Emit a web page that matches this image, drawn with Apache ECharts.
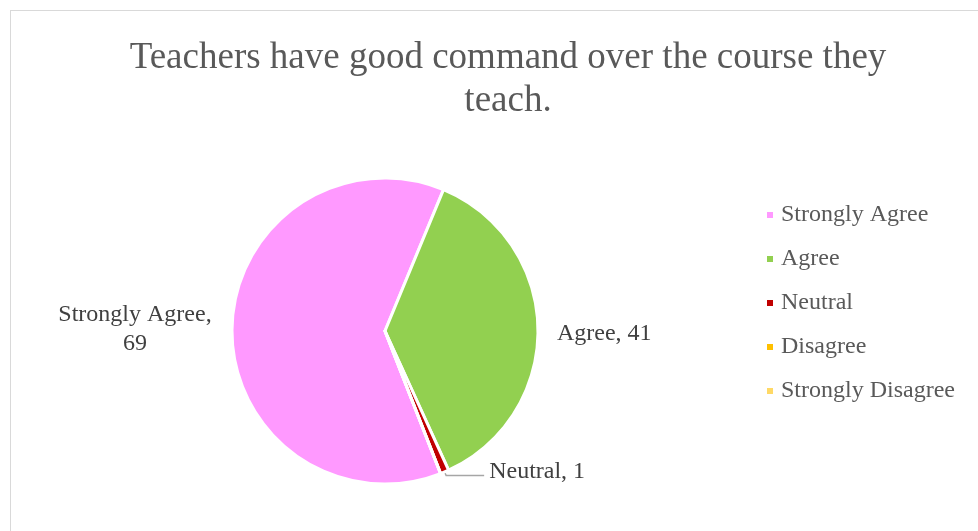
<!DOCTYPE html>
<html style="height: 100%">

<head>
  <meta charset="utf-8">
</head>

<body style="height: 100%; margin: 0; background: #fff">
  <div style="position: absolute; left: 10px; top: 10px; width: 980px; height: 540px; border: 1px solid #d9d9d9"></div>
  <div id="container" style="position: absolute; left: 0; top: 0; width: 978px; height: 531px"></div>
  <script type="text/javascript" src="https://cdn.jsdelivr.net/npm/echarts@6/dist/echarts.min.js"></script>
  <script type="text/javascript">
  var categories = ['Strongly Agree', 'Agree', 'Neutral', 'Disagree', 'Strongly Disagree'];
  var counts = [69, 41, 1, 0, 0];
  var colors = ['#FF99FF', '#92D050', '#C00000', '#FFC000', '#FFD966'];

  var dom = document.getElementById("container");
  var myChart = echarts.init(dom);
  var option;

  var font = 'Liberation Serif';

  var pieData = categories.map(function (name, i) {
    var item = { name: name, value: counts[i], itemStyle: { color: colors[i] } };
    if (counts[i] === 0) {
      item.label = { show: false };
      item.labelLine = { show: false };
    } else if (name === 'Neutral') {
      item.labelLine = { show: true, length: 4, length2: 38 };
    } else if (name === 'Agree') {
      item.labelLine = { show: false, length: 6, length2: 8 };
    } else {
      // two-line label, centred under itself
      item.labelLine = { show: false, length: 6, length2: 8 };
      item.label = {
        formatter: '{a|{b},}\n{a|{c}}',
        rich: {
          a: { width: 156, align: 'center', fontFamily: font, fontSize: 24, color: '#404040', lineHeight: 29 }
        }
      };
    }
    return item;
  });

  // small nudges so labels sit like the original
  var labelShift = { 'Agree': 6, 'Neutral': -4 };

  option = {
    title: {
      text: 'Teachers have good command over the course they\nteach.',
      left: 503,
      top: 32,
      textAlign: 'center',
      textStyle: {
        fontFamily: font,
        fontSize: 37,
        fontWeight: 'normal',
        color: '#595959',
        lineHeight: 43
      }
    },
    legend: {
      orient: 'vertical',
      left: 765,
      top: 203,
      padding: 0,
      icon: 'rect',
      itemWidth: 8,
      itemHeight: 8,
      itemGap: 20,
      data: categories,
      textStyle: {
        fontFamily: font,
        fontSize: 24,
        lineHeight: 24,
        color: '#595959',
        padding: [0, 0, 0, 2]
      }
    },
    series: [{
      type: 'pie',
      center: [385, 331],
      radius: [0, 153],
      startAngle: -68.7,
      avoidLabelOverlap: false,
      stillShowZeroSum: true,
      itemStyle: {
        borderColor: '#ffffff',
        borderWidth: 3
      },
      label: {
        show: true,
        position: 'outside',
        formatter: '{b}, {c}',
        fontFamily: font,
        fontSize: 24,
        color: '#404040',
        lineHeight: 29
      },
      labelLine: {
        lineStyle: { color: '#a6a6a6', width: 1.5 },
        smooth: false
      },
      labelLayout: function (params) {
        var dy = labelShift[categories[params.dataIndex]] || 0;
        return { dy: dy };
      },
      emphasis: { scale: false },
      data: pieData
    }]
  };

  myChart.setOption(option);
  </script>
</body>

</html>
